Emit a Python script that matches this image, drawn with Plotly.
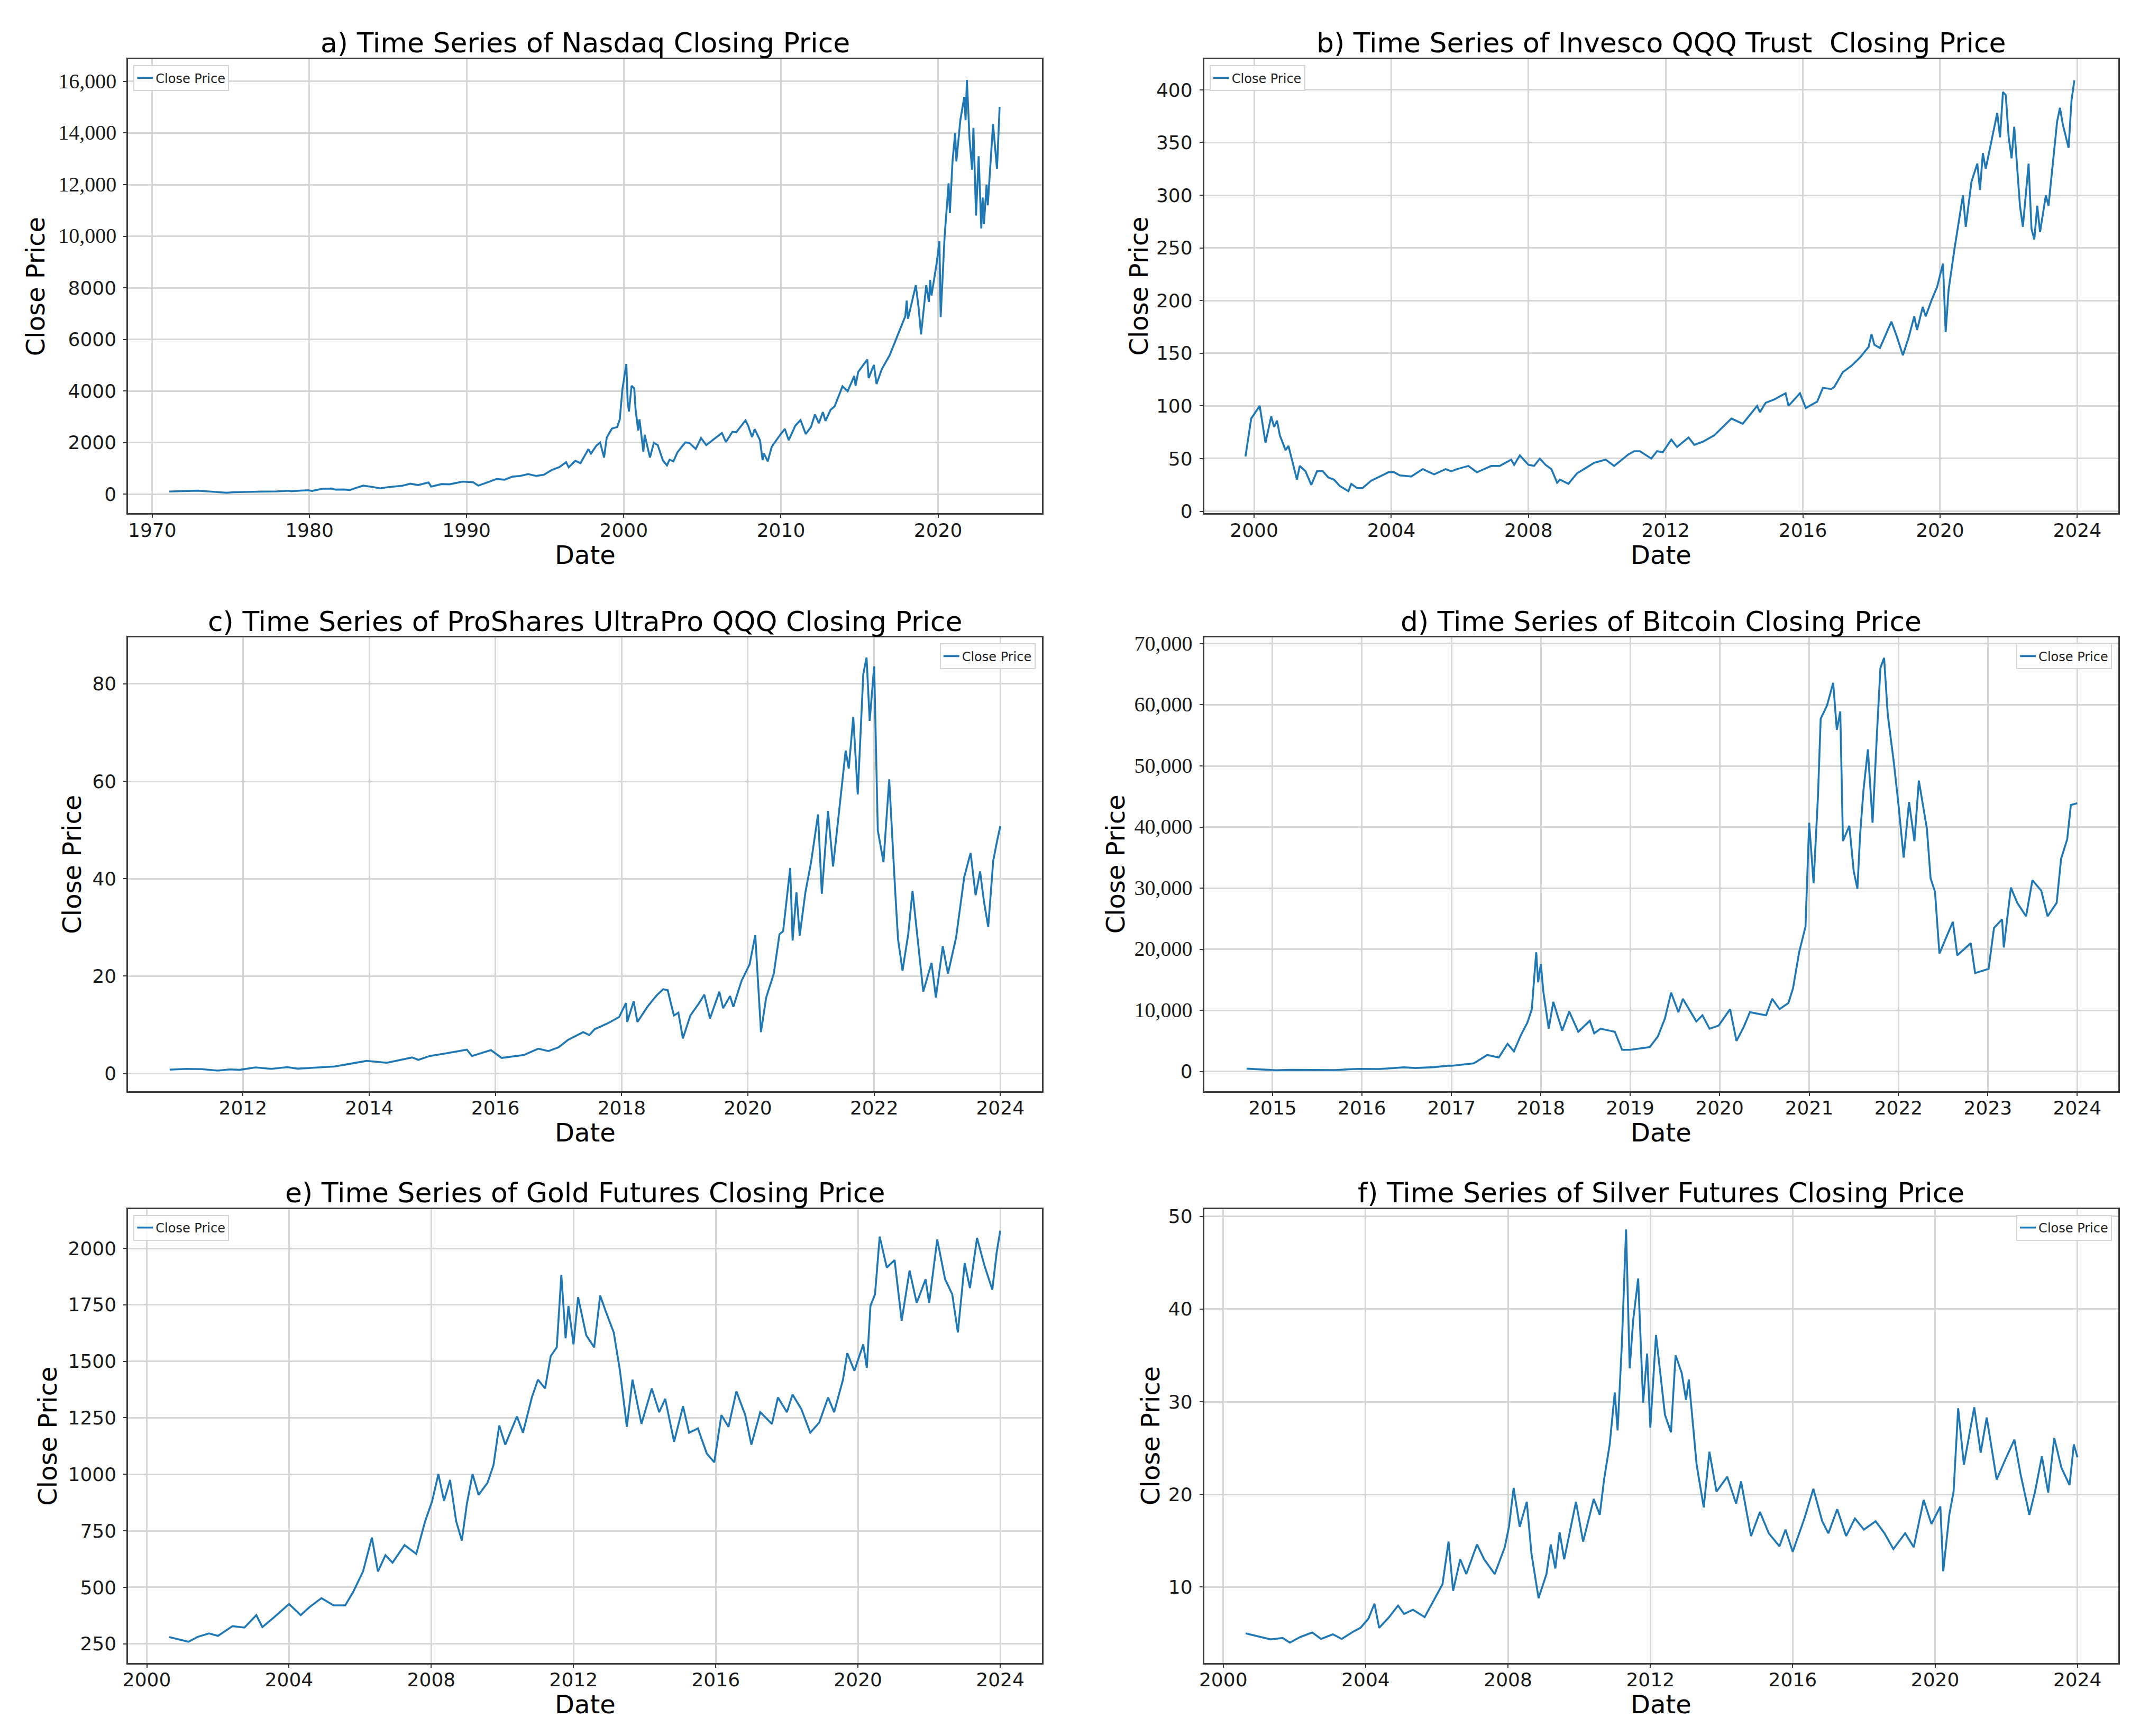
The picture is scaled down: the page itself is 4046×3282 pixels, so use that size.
import plotly.graph_objects as go
from datetime import datetime, timedelta

# ---- data ----
nasdaq_dates = ["1971-02", "1971-06", "1972-01", "1972-06", "1972-12", "1973-06", "1973-12", "1974-06",
                "1974-10", "1975-03", "1975-09", "1976-06", "1976-12", "1977-06", "1977-12", "1978-06",
                "1978-09", "1978-11", "1979-06", "1979-12", "1980-03", "1980-11", "1981-06", "1981-09",
                "1982-03", "1982-08", "1982-12", "1983-06", "1984-01", "1984-07", "1985-01", "1985-06",
                "1985-12", "1986-06", "1986-12", "1987-08", "1987-10", "1988-06", "1988-12", "1989-10",
                "1990-06", "1990-10", "1991-06", "1991-12", "1992-06", "1992-12", "1993-06", "1993-12",
                "1994-06", "1994-12", "1995-06", "1995-12", "1996-05", "1996-07", "1996-12", "1997-04",
                "1997-10", "1997-12", "1998-04", "1998-07", "1998-10", "1998-12", "1999-04", "1999-08",
                "1999-10", "1999-12", "2000-03", "2000-04", "2000-05", "2000-07", "2000-09", "2000-10",
                "2000-12", "2001-01", "2001-04", "2001-05", "2001-09", "2001-12", "2002-03", "2002-07",
                "2002-10", "2002-12", "2003-03", "2003-06", "2003-12", "2004-03", "2004-08", "2004-12",
                "2005-04", "2005-12", "2006-04", "2006-07", "2006-12", "2007-03", "2007-10", "2007-12",
                "2008-03", "2008-05", "2008-09", "2008-11", "2008-12", "2009-03", "2009-06", "2009-12",
                "2010-04", "2010-07", "2010-12", "2011-04", "2011-08", "2011-12", "2012-03", "2012-06",
                "2012-09", "2012-11", "2013-03", "2013-06", "2013-12", "2014-04", "2014-09", "2014-10",
                "2014-12", "2015-07", "2015-08", "2015-12", "2016-02", "2016-06", "2016-12", "2017-06",
                "2017-12", "2018-01", "2018-02", "2018-08", "2018-10", "2018-12", "2019-04", "2019-06",
                "2019-07", "2019-08", "2019-12", "2020-02", "2020-03", "2020-06", "2020-09", "2020-10",
                "2020-12", "2021-02", "2021-03", "2021-06", "2021-09", "2021-10", "2021-11", "2022-01",
                "2022-03", "2022-04", "2022-06", "2022-08", "2022-10", "2022-11", "2022-12", "2023-02",
                "2023-03", "2023-07", "2023-10", "2023-12"]
nasdaq_close = [100, 108, 110, 125, 133, 110, 92, 80,
                55, 75, 75, 90, 97, 98, 105, 120,
                132, 113, 135, 151, 125, 208, 215, 175,
                180, 160, 232, 328, 280, 225, 270, 300,
                325, 405, 350, 455, 291, 390, 381, 485,
                460, 329, 480, 586, 560, 677, 705, 777,
                705, 752, 933, 1052, 1240, 1040, 1291, 1200,
                1745, 1570, 1870, 2000, 1420, 2193, 2540, 2600,
                2900, 4069, 5048, 3600, 3200, 4200, 4100, 3300,
                2470, 2900, 1640, 2300, 1420, 1987, 1900, 1300,
                1114, 1335, 1270, 1620, 2003, 1990, 1750, 2175,
                1900, 2205, 2370, 2020, 2415, 2400, 2860, 2652,
                2210, 2520, 2090, 1316, 1577, 1268, 1835, 2269,
                2530, 2090, 2653, 2870, 2330, 2605, 3090, 2750,
                3180, 2840, 3270, 3400, 4177, 3990, 4580, 4200,
                4736, 5220, 4500, 5007, 4270, 4840, 5383, 6140,
                6903, 7500, 6800, 8100, 7300, 6190, 8100, 7450,
                8300, 7700, 8973, 9800, 6860, 10000, 12050, 10900,
                12888, 14000, 12900, 14500, 15400, 14500, 16057, 13770,
                12580, 14200, 10800, 13100, 10300, 11500, 10466, 12000,
                11200, 14350, 12600, 15011]

qqq_dates = ["1999-10", "1999-12", "2000-03", "2000-05", "2000-07", "2000-08", "2000-09", "2000-10",
             "2000-12", "2001-01", "2001-04", "2001-05", "2001-07", "2001-09", "2001-11", "2002-01",
             "2002-03", "2002-05", "2002-07", "2002-10", "2002-11", "2003-01", "2003-03", "2003-06",
             "2003-09", "2003-12", "2004-02", "2004-04", "2004-08", "2004-12", "2005-04", "2005-08",
             "2005-10", "2005-12", "2006-04", "2006-07", "2006-12", "2007-03", "2007-07", "2007-08",
             "2007-10", "2008-01", "2008-03", "2008-05", "2008-07", "2008-09", "2008-11", "2008-12",
             "2009-03", "2009-06", "2009-09", "2009-12", "2010-04", "2010-07", "2010-12", "2011-02",
             "2011-04", "2011-08", "2011-10", "2011-12", "2012-03", "2012-05", "2012-09", "2012-11",
             "2013-02", "2013-06", "2013-09", "2013-12", "2014-04", "2014-09", "2014-10", "2014-12",
             "2015-03", "2015-07", "2015-08", "2015-12", "2016-02", "2016-06", "2016-08", "2016-11",
             "2016-12", "2017-03", "2017-06", "2017-09", "2017-12", "2018-01", "2018-02", "2018-04",
             "2018-08", "2018-10", "2018-12", "2019-02", "2019-04", "2019-05", "2019-07", "2019-08",
             "2019-10", "2019-12", "2020-02", "2020-03", "2020-04", "2020-06", "2020-09", "2020-10",
             "2020-12", "2021-02", "2021-03", "2021-04", "2021-05", "2021-09", "2021-10", "2021-11",
             "2021-12", "2022-01", "2022-02", "2022-03", "2022-05", "2022-06", "2022-08", "2022-09",
             "2022-10", "2022-11", "2022-12", "2023-02", "2023-03", "2023-06", "2023-07", "2023-08",
             "2023-10", "2023-11", "2023-12"]
qqq_close = [52, 88, 100, 65, 90, 80, 86, 72,
             58, 62, 30, 43, 38, 25, 38, 38,
             32, 30, 24, 19, 26, 22, 22, 29,
             33, 37, 37, 34, 33, 40, 35, 40,
             38, 40, 43, 37, 43, 43, 49, 44,
             53, 44, 43, 50, 44, 40, 27, 30,
             26, 36, 41, 46, 49, 43, 54, 57,
             57, 50, 57, 56, 68, 61, 70, 63,
             66, 72, 80, 88, 83, 100, 94, 103,
             106, 112, 100, 112, 98, 104, 117, 116,
             118, 132, 138, 146, 156, 168, 158, 155,
             180, 165, 148, 165, 185, 172, 194, 185,
             200, 213, 235, 170, 210, 248, 300, 270,
             313, 330, 305, 340, 325, 378, 355, 398,
             395, 355, 335, 365, 290, 270, 330, 268,
             258, 290, 265, 300, 290, 370, 383, 367,
             345, 390, 409]

# the next four series are given in decimal years
tqqq_years_dec = [2010.84, 2011.1, 2011.35, 2011.6, 2011.8, 2011.95, 2012.2, 2012.45, 2012.7, 2012.87,
                  2013.2, 2013.45, 2013.7, 2013.96, 2014.28, 2014.68, 2014.78, 2014.96, 2015.2, 2015.55,
                  2015.63, 2015.93, 2016.1, 2016.45, 2016.68, 2016.84, 2017.0, 2017.15, 2017.39, 2017.49,
                  2017.57, 2017.78, 2017.96, 2018.07, 2018.09, 2018.19, 2018.25, 2018.41, 2018.49, 2018.56,
                  2018.66, 2018.73, 2018.83, 2018.9, 2018.97, 2019.09, 2019.22, 2019.31, 2019.4, 2019.55,
                  2019.61, 2019.72, 2019.77, 2019.9, 2020.03, 2020.12, 2020.16, 2020.21, 2020.29, 2020.41,
                  2020.5, 2020.56, 2020.67, 2020.71, 2020.77, 2020.82, 2020.91, 2021.0, 2021.11, 2021.17,
                  2021.27, 2021.35, 2021.45, 2021.55, 2021.6, 2021.67, 2021.74, 2021.83, 2021.88, 2021.93,
                  2022.0, 2022.06, 2022.15, 2022.24, 2022.33, 2022.38, 2022.45, 2022.54, 2022.61, 2022.7,
                  2022.78, 2022.91, 2022.98, 2023.09, 2023.17, 2023.3, 2023.43, 2023.53, 2023.61, 2023.68,
                  2023.74, 2023.81, 2023.89, 2023.95, 2024.0]
tqqq_close = [0.8, 0.95, 0.9, 0.6, 0.85, 0.75, 1.25, 0.95, 1.3, 1.0,
              1.25, 1.45, 2.0, 2.6, 2.2, 3.3, 2.8, 3.6, 4.1, 4.9,
              3.6, 4.8, 3.2, 3.8, 5.1, 4.6, 5.4, 6.9, 8.5, 7.9,
              9.1, 10.3, 11.6, 14.5, 10.6, 14.8, 10.6, 13.7, 15.0, 16.1,
              17.3, 17.1, 11.9, 12.5, 7.2, 11.9, 14.3, 16.2, 11.3, 16.8,
              13.4, 15.9, 13.7, 19.0, 22.4, 28.4, 19.3, 8.5, 15.6, 20.5,
              28.6, 29.2, 42.2, 27.3, 37.2, 28.3, 37.2, 43.4, 53.2, 36.9,
              53.9, 42.5, 54.5, 66.3, 62.6, 73.2, 57.3, 82.0, 85.4, 72.4,
              83.6, 49.9, 43.4, 60.4, 38.5, 27.6, 21.1, 28.6, 37.5, 26.1,
              16.8, 22.7, 15.6, 26.1, 20.5, 27.9, 40.3, 45.3, 36.6, 41.5,
              35.4, 30.1, 43.7, 47.7, 50.8]

btc_years_dec = [2014.71, 2014.85, 2015.04, 2015.2, 2015.45, 2015.7, 2015.85, 2015.96, 2016.2, 2016.47,
                 2016.6, 2016.8, 2016.97, 2017.0, 2017.25, 2017.4, 2017.53, 2017.63, 2017.7, 2017.78,
                 2017.85, 2017.9, 2017.95, 2017.97, 2018.0, 2018.03, 2018.09, 2018.14, 2018.24, 2018.32,
                 2018.42, 2018.55, 2018.6, 2018.67, 2018.83, 2018.91, 2019.0, 2019.22, 2019.31, 2019.39,
                 2019.46, 2019.54, 2019.59, 2019.69, 2019.74, 2019.81, 2019.89, 2019.99, 2020.12, 2020.19,
                 2020.27, 2020.34, 2020.52, 2020.59, 2020.67, 2020.77, 2020.82, 2020.89, 2020.96, 2021.0,
                 2021.05, 2021.1, 2021.13, 2021.2, 2021.27, 2021.31, 2021.35, 2021.38, 2021.45, 2021.5,
                 2021.54, 2021.57, 2021.61, 2021.66, 2021.71, 2021.76, 2021.8, 2021.84, 2021.88, 2021.95,
                 2022.0, 2022.06, 2022.12, 2022.18, 2022.23, 2022.32, 2022.36, 2022.41, 2022.46, 2022.61,
                 2022.66, 2022.81, 2022.86, 2023.01, 2023.07, 2023.16, 2023.18, 2023.26, 2023.33, 2023.43,
                 2023.5, 2023.6, 2023.67, 2023.77, 2023.82, 2023.89, 2023.93, 2024.0]
btc_close = [460, 380, 210, 270, 245, 235, 360, 430, 415, 680,
             575, 700, 960, 935, 1330, 2700, 2300, 4530, 3300, 6000,
             8000, 10200, 19500, 14600, 17600, 13100, 7000, 11400, 6700, 9800,
             6500, 8300, 6250, 7000, 6500, 3540, 3540, 4000, 5750, 8700,
             12900, 9700, 11900, 9450, 8200, 9200, 7000, 7500, 10200, 5000,
             7230, 9700, 9200, 11900, 10200, 11200, 13600, 19500, 23700, 40700,
             30800, 45100, 57700, 59900, 63600, 55900, 58900, 37700, 40200, 32800,
             29900, 38700, 46100, 52700, 40700, 55400, 66000, 67700, 58400, 50500,
             43600, 35000, 44100, 37700, 47600, 39700, 31600, 29400, 19300, 24500,
             19000, 21000, 16100, 16800, 23500, 24900, 20300, 30100, 27600, 25400,
             31300, 29600, 25400, 27600, 34800, 38000, 43600, 43900]

gold_years_dec = [2000.63, 2001.17, 2001.42, 2001.75, 2002.0, 2002.41, 2002.75, 2003.08, 2003.25, 2003.58,
                  2004.0, 2004.33, 2004.58, 2004.91, 2005.25, 2005.58, 2005.8, 2006.08, 2006.33, 2006.5,
                  2006.71, 2006.91, 2007.25, 2007.58, 2007.83, 2008.03, 2008.2, 2008.36, 2008.53, 2008.7,
                  2008.86, 2009.0, 2009.16, 2009.33, 2009.58, 2009.75, 2009.91, 2010.08, 2010.41, 2010.58,
                  2010.83, 2011.0, 2011.2, 2011.36, 2011.53, 2011.66, 2011.78, 2011.86, 2012.0, 2012.13,
                  2012.36, 2012.58, 2012.75, 2012.91, 2013.13, 2013.3, 2013.41, 2013.5, 2013.66, 2013.91,
                  2014.2, 2014.41, 2014.58, 2014.83, 2015.08, 2015.25, 2015.5, 2015.75, 2015.96, 2016.16,
                  2016.36, 2016.58, 2016.83, 2017.0, 2017.25, 2017.58, 2017.75, 2018.0, 2018.16, 2018.41,
                  2018.66, 2018.91, 2019.16, 2019.33, 2019.58, 2019.7, 2019.9, 2020.15, 2020.25, 2020.35,
                  2020.48, 2020.61, 2020.81, 2021.03, 2021.23, 2021.45, 2021.65, 2021.9, 2022.0, 2022.23,
                  2022.45, 2022.65, 2022.81, 2023.0, 2023.15, 2023.35, 2023.55, 2023.78, 2023.9, 2024.0]
gold_close = [280, 259, 280, 296, 285, 328, 322, 377, 324, 367,
              426, 377, 413, 452, 420, 420, 478, 570, 720, 570,
              642, 609, 687, 648, 792, 883, 1001, 883, 975, 792,
              707, 870, 1001, 909, 962, 1040, 1216, 1131, 1256, 1184,
              1340, 1419, 1380, 1523, 1562, 1882, 1602, 1745, 1575, 1784,
              1615, 1562, 1791, 1719, 1628, 1465, 1327, 1210, 1419, 1223,
              1380, 1275, 1334, 1144, 1301, 1184, 1203, 1092, 1053, 1262,
              1210, 1367, 1262, 1131, 1275, 1223, 1340, 1275, 1353, 1288,
              1184, 1229, 1340, 1275, 1419, 1536, 1458, 1575, 1471, 1745,
              1797, 2052, 1915, 1948, 1680, 1902, 1758, 1863, 1758, 2039,
              1863, 1797, 1628, 1935, 1824, 2046, 1928, 1817, 1980, 2078]

silver_years_dec = [2000.63, 2001.08, 2001.33, 2001.67, 2001.87, 2002.16, 2002.5, 2002.75, 2003.08, 2003.33,
                    2003.66, 2003.86, 2004.08, 2004.25, 2004.38, 2004.66, 2004.91, 2005.08, 2005.33, 2005.66,
                    2005.91, 2006.16, 2006.33, 2006.46, 2006.66, 2006.83, 2007.13, 2007.33, 2007.63, 2007.91,
                    2008.03, 2008.16, 2008.33, 2008.53, 2008.66, 2008.86, 2009.08, 2009.2, 2009.33, 2009.45,
                    2009.58, 2009.91, 2010.11, 2010.41, 2010.58, 2010.7, 2010.86, 2011.0, 2011.08, 2011.2,
                    2011.32, 2011.42, 2011.52, 2011.66, 2011.8, 2011.91, 2012.0, 2012.16, 2012.41, 2012.58,
                    2012.71, 2012.88, 2013.0, 2013.08, 2013.3, 2013.5, 2013.66, 2013.86, 2014.16, 2014.41,
                    2014.55, 2014.83, 2015.08, 2015.33, 2015.63, 2015.8, 2016.0, 2016.33, 2016.58, 2016.83,
                    2017.0, 2017.25, 2017.5, 2017.75, 2018.0, 2018.33, 2018.58, 2018.83, 2019.16, 2019.4,
                    2019.68, 2019.9, 2020.15, 2020.23, 2020.4, 2020.52, 2020.65, 2020.81, 2021.1, 2021.28,
                    2021.45, 2021.73, 2021.98, 2022.23, 2022.4, 2022.65, 2022.81, 2023.0, 2023.18, 2023.35,
                    2023.55, 2023.78, 2023.9, 2024.0]
silver_close = [5.0, 4.6, 4.35, 4.5, 4.0, 4.6, 5.1, 4.4, 4.9, 4.4,
                5.2, 5.6, 6.6, 8.2, 5.6, 6.75, 8.0, 7.1, 7.55, 6.75,
                8.5, 10.3, 14.9, 9.6, 13.0, 11.4, 14.6, 13.0, 11.4, 14.3,
                16.5, 20.7, 16.5, 19.2, 13.6, 8.8, 11.4, 14.6, 12.0, 15.9,
                13.0, 19.2, 14.9, 19.5, 17.8, 21.6, 25.4, 31.0, 26.9, 36.3,
                48.6, 33.6, 38.8, 43.3, 29.9, 35.2, 27.2, 37.2, 28.6, 26.7,
                35.0, 33.1, 30.2, 32.4, 23.2, 18.6, 24.6, 20.3, 21.9, 19.0,
                21.4, 15.5, 18.1, 15.8, 14.4, 16.2, 13.8, 17.4, 20.6, 17.1,
                15.8, 18.4, 15.5, 17.4, 16.2, 17.1, 15.8, 14.1, 15.8, 14.3,
                19.4, 16.8, 18.7, 11.7, 17.8, 20.3, 29.3, 23.2, 29.4, 24.5,
                28.3, 21.6, 23.8, 25.9, 22.2, 17.8, 20.3, 24.1, 20.2, 26.1,
                22.9, 21.0, 25.4, 24.0]

titles = ["a) Time Series of Nasdaq Closing Price",
          "b) Time Series of Invesco QQQ Trust  Closing Price",
          "c) Time Series of ProShares UltraPro QQQ Closing Price",
          "d) Time Series of Bitcoin Closing Price",
          "e) Time Series of Gold Futures Closing Price",
          "f) Time Series of Silver Futures Closing Price"]

nasdaq_years = [1970, 1980, 1990, 2000, 2010, 2020]
qqq_years = [2000, 2004, 2008, 2012, 2016, 2020, 2024]
tqqq_years = [2012, 2014, 2016, 2018, 2020, 2022, 2024]
btc_years = [2015, 2016, 2017, 2018, 2019, 2020, 2021, 2022, 2023, 2024]
gold_years = [2000, 2004, 2008, 2012, 2016, 2020, 2024]
silver_years = [2000, 2004, 2008, 2012, 2016, 2020, 2024]

nasdaq_yticks = [0, 2000, 4000, 6000, 8000, 10000, 12000, 14000, 16000]
nasdaq_ylabels = ["0", "2000", "4000", "6000", "8000", "10,000", "12,000", "14,000", "16,000"]
qqq_yticks = [0, 50, 100, 150, 200, 250, 300, 350, 400]
qqq_ylabels = ["0", "50", "100", "150", "200", "250", "300", "350", "400"]
tqqq_yticks = [0, 20, 40, 60, 80]
tqqq_ylabels = ["0", "20", "40", "60", "80"]
btc_yticks = [0, 10000, 20000, 30000, 40000, 50000, 60000, 70000]
btc_ylabels = ["0", "10,000", "20,000", "30,000", "40,000", "50,000", "60,000", "70,000"]
gold_yticks = [250, 500, 750, 1000, 1250, 1500, 1750, 2000]
gold_ylabels = ["250", "500", "750", "1000", "1250", "1500", "1750", "2000"]
silver_yticks = [10, 20, 30, 40, 50]
silver_ylabels = ["10", "20", "30", "40", "50"]


def year_to_date(y):
    yr = int(y)
    start = datetime(yr, 1, 1)
    days = (datetime(yr + 1, 1, 1) - start).days
    return (start + timedelta(days=(y - yr) * days)).strftime("%Y-%m-%d")


def serif(lbl):
    # the comma-grouped tick labels are drawn in a larger serif face in the reference
    if "," in lbl:
        return '<span style="font-family:Liberation Serif;font-size:40px">' + lbl + "</span>"
    return lbl


# ---- layout (pixels of the reference page) ----
PAGE_W, PAGE_H = 4046, 3282
OFF = 8                      # default body margin of the html page
W, H = PAGE_W - 2 * OFF, PAGE_H - 2 * OFF
BLUE = "#1f77b4"
FONT = "DejaVu Sans"
cols_px = [(232, 1964), (2272, 4005)]
rows_px = [(101, 967), (1204, 2069), (2294, 3160)]


def px_x(v):
    return (v - OFF) / W


def px_y(v):
    return 1 - (v - OFF) / H


panels = [
    dict(x=nasdaq_dates, y=nasdaq_close, years=nasdaq_years, yt=nasdaq_yticks, yl=nasdaq_ylabels,
         xr=["1968-06-21", "2026-08-07"], yr=[-745, 16857], leg="left", ytx=56),
    dict(x=qqq_dates, y=qqq_close, years=qqq_years, yt=qqq_yticks, yl=qqq_ylabels,
         xr=["1998-07-19", "2025-03-14"], yr=[-2, 429], leg="left", ytx=2148),
    dict(x=[year_to_date(v) for v in tqqq_years_dec], y=tqqq_close, years=tqqq_years,
         yt=tqqq_yticks, yl=tqqq_ylabels,
         xr=["2010-03-08", "2024-08-28"], yr=[-3.6, 89.5], leg="right", ytx=125),
    dict(x=[year_to_date(v) for v in btc_years_dec], y=btc_close, years=btc_years,
         yt=btc_yticks, yl=btc_ylabels,
         xr=["2014-03-28", "2024-06-17"], yr=[-3200, 71000], leg="right", ytx=2104),
    dict(x=[year_to_date(v) for v in gold_years_dec], y=gold_close, years=gold_years,
         yt=gold_yticks, yl=gold_ylabels,
         xr=["1999-06-24", "2025-03-03"], yr=[165, 2174], leg="left", ytx=79),
    dict(x=[year_to_date(v) for v in silver_years_dec], y=silver_close, years=silver_years,
         yt=silver_yticks, yl=silver_ylabels,
         xr=["1999-06-20", "2025-02-24"], yr=[1.8, 50.8], leg="right", ytx=2170),
]

fig = go.Figure()
layout = dict(width=W, height=H, margin=dict(l=0, r=0, t=0, b=0), showlegend=True,
              paper_bgcolor="white", plot_bgcolor="white",
              font=dict(family=FONT, color="black"), annotations=[])

for i, p in enumerate(panels):
    r, c = divmod(i, 2)
    left, right = cols_px[c]
    top, bottom = rows_px[r]
    n = "" if i == 0 else str(i + 1)
    legname = "legend" + n

    fig.add_trace(go.Scatter(x=p["x"], y=p["y"], mode="lines", name="Close Price",
                             line=dict(color=BLUE, width=3.6), showlegend=True,
                             xaxis="x" + n, yaxis="y" + n, legend=legname))

    axis_common = dict(showline=True, mirror=True, linecolor="#3a3a3a", linewidth=3,
                       ticks="outside", ticklen=6, tickwidth=2, tickcolor="#3a3a3a",
                       showgrid=True, gridcolor="#d6d6d6", gridwidth=2.5, zeroline=False,
                       tickfont=dict(family=FONT, size=36, color="#1a1a1a"))
    layout["xaxis" + n] = dict(axis_common, type="date", anchor="y" + n,
                               domain=[px_x(left), px_x(right)], range=p["xr"],
                               tickmode="array", tickvals=[f"{y}-01-01" for y in p["years"]],
                               ticktext=[str(y) for y in p["years"]], ticklabelstandoff=-8)
    layout["yaxis" + n] = dict(axis_common, anchor="x" + n,
                               domain=[px_y(bottom), px_y(top)], range=p["yr"],
                               tickmode="array", tickvals=p["yt"],
                               ticktext=[serif(t) for t in p["yl"]], ticklabelstandoff=6)

    if p["leg"] == "left":
        lx, xa = px_x(left + 10), "left"
    else:
        lx, xa = px_x(right - 12), "right"
    layout[legname] = dict(x=lx, y=px_y(top + 11), xanchor=xa, yanchor="top",
                           bgcolor="rgba(255,255,255,0.85)", bordercolor="#d4d4d4", borderwidth=2,
                           font=dict(family=FONT, size=24, color="#222222"), itemwidth=30)

    cx = px_x((left + right) / 2)
    layout["annotations"] += [
        dict(text=titles[i], x=cx, y=px_y(top - 31), xref="paper", yref="paper",
             xanchor="center", yanchor="middle", showarrow=False,
             font=dict(family=FONT, size=52, color="black")),
        dict(text="Date", x=cx, y=px_y(bottom + 79), xref="paper", yref="paper",
             xanchor="center", yanchor="middle", showarrow=False,
             font=dict(family=FONT, size=48, color="black")),
        dict(text="Close Price", x=px_x(p["ytx"]), y=px_y((top + bottom) / 2), xref="paper", yref="paper",
             xanchor="center", yanchor="middle", textangle=-90, showarrow=False,
             font=dict(family=FONT, size=48, color="black")),
    ]

fig.update_layout(**layout)
fig.write_html("out.html")
